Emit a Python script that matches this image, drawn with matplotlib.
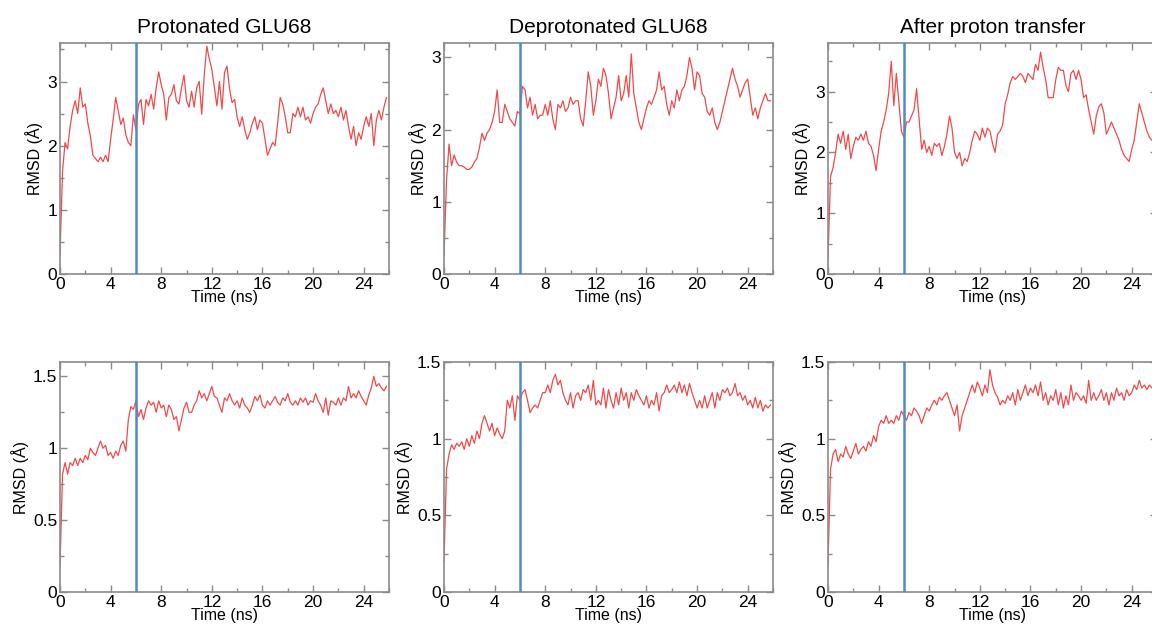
import numpy as np
import matplotlib
matplotlib.use("Agg")
import matplotlib.pyplot as plt
from matplotlib.ticker import MultipleLocator

plt.rcParams['font.family'] = ['Liberation Sans', 'DejaVu Sans']

# time axis (ns), sampled every 0.2 ns
time_ns = np.round(np.arange(130) * 0.2, 1)

titles = ["Protonated GLU68", "Deprotonated GLU68", "After proton transfer"]
transfer_time = 6.0

rmsd_top_protonated = [
    0.3, 1.6, 2.05, 1.95, 2.3, 2.55, 2.7, 2.5, 2.9, 2.6,
    2.65, 2.35, 2.15, 1.85, 1.8, 1.75, 1.82, 1.75, 1.85, 1.75,
    2.1, 2.4, 2.75, 2.55, 2.33, 2.43, 2.17, 2.05, 2.0, 2.48,
    2.25, 2.64, 2.72, 2.33, 2.72, 2.62, 2.8, 2.57, 2.9, 3.15,
    2.95, 2.8, 2.4, 2.75, 2.8, 2.95, 2.7, 2.65, 2.9, 3.1,
    2.7, 2.6, 2.85, 2.6, 2.9, 3.0, 2.49, 3.1, 3.55, 3.35,
    3.19, 2.9, 2.62, 3.0, 2.57, 3.14, 3.24, 2.88, 2.67, 2.72,
    2.44, 2.3, 2.45, 2.25, 2.1, 2.2, 2.35, 2.45, 2.25, 2.4,
    2.35, 2.1, 1.85, 1.95, 2.05, 2.0, 2.35, 2.75, 2.65, 2.45,
    2.2, 2.2, 2.5, 2.45, 2.6, 2.45, 2.6, 2.4, 2.45, 2.35,
    2.5, 2.6, 2.65, 2.8, 2.9, 2.7, 2.5, 2.65, 2.5, 2.55,
    2.45, 2.6, 2.4, 2.55, 2.3, 2.1, 2.3, 2.0, 2.2, 2.1,
    2.3, 2.45, 2.3, 2.5, 2.0, 2.4, 2.55, 2.4, 2.6, 2.75,
]

rmsd_top_deprotonated = [
    0.25, 1.3, 1.8, 1.5, 1.65, 1.55, 1.5, 1.5, 1.48, 1.45,
    1.45, 1.48, 1.55, 1.6, 1.75, 1.95, 1.85, 1.95, 2.0, 2.1,
    2.25, 2.55, 2.1, 2.1, 2.35, 2.25, 2.15, 2.1, 2.05, 2.25,
    2.22, 2.6, 2.55, 2.3, 2.45, 2.2, 2.35, 2.15, 2.2, 2.2,
    2.35, 2.2, 2.4, 2.15, 2.0, 2.35, 2.3, 2.4, 2.25, 2.3,
    2.45, 2.35, 2.4, 2.4, 2.15, 2.05, 2.4, 2.8, 2.6, 2.2,
    2.4, 2.7, 2.6, 2.85, 2.75, 2.5, 2.15, 2.3, 2.45, 2.75,
    2.4, 2.5, 2.75, 2.45, 3.05, 2.5, 2.3, 2.1, 2.0, 2.15,
    2.3, 2.4, 2.35, 2.45, 2.55, 2.8, 2.55, 2.6, 2.35, 2.2,
    2.4, 2.3, 2.55, 2.4, 2.55, 2.6, 2.75, 3.0, 2.85, 2.55,
    2.8, 2.75, 2.5, 2.45, 2.25, 2.2, 2.3, 2.1, 2.0, 2.1,
    2.25, 2.4, 2.55, 2.7, 2.85, 2.7, 2.6, 2.45, 2.55, 2.65,
    2.7, 2.45, 2.2, 2.3, 2.15, 2.3, 2.4, 2.5, 2.4, 2.4,
]

rmsd_top_transfer = [
    0.25, 1.6, 1.75, 2.0, 2.3, 2.15, 2.35, 2.05, 2.3, 1.9,
    2.1, 2.25, 2.2, 2.3, 2.2, 2.35, 2.15, 2.1, 1.95, 1.7,
    2.05, 2.35, 2.5, 2.7, 2.98, 3.5, 2.77, 3.3, 2.82, 2.35,
    2.25, 2.5, 2.5, 2.6, 2.7, 3.05, 2.55, 2.05, 2.2, 2.0,
    2.1, 1.95, 2.15, 2.1, 2.15, 1.95, 2.1, 2.3, 2.6, 2.4,
    2.0, 1.9, 2.0, 1.78, 1.9, 1.85, 2.0, 2.2, 2.35, 2.3,
    2.2, 2.4, 2.25, 2.4, 2.35, 2.15, 2.0, 2.3, 2.35, 2.45,
    2.8, 2.95, 3.15, 3.25, 3.2, 3.25, 3.3, 3.25, 3.15, 3.3,
    3.25, 3.2, 3.45, 3.35, 3.65, 3.4, 3.2, 2.9, 2.9, 2.9,
    3.2, 3.4, 3.35, 3.35, 3.1, 3.0, 3.3, 3.35, 3.2, 3.35,
    3.2, 2.9, 2.95, 2.7, 2.5, 2.3, 2.6, 2.75, 2.8, 2.65,
    2.3, 2.4, 2.5, 2.4, 2.3, 2.2, 2.05, 1.95, 1.9, 1.85,
    2.05, 2.2, 2.5, 2.8, 2.65, 2.5, 2.35, 2.25, 2.2, 2.2,
]

rmsd_bottom_protonated = [
    0.18, 0.82, 0.9, 0.82, 0.9, 0.88, 0.93, 0.88, 0.93, 0.9,
    0.95, 0.92, 1.0, 0.97, 0.95, 1.0, 1.05, 1.0, 1.02, 0.95,
    0.97, 0.93, 0.98, 0.95, 1.02, 1.05, 0.98, 1.2, 1.29, 1.27,
    1.33, 1.22, 1.27, 1.2, 1.28, 1.33, 1.3, 1.32, 1.25, 1.33,
    1.28, 1.3, 1.22, 1.3, 1.27, 1.2, 1.22, 1.12, 1.2, 1.28,
    1.32, 1.25, 1.25, 1.3, 1.33, 1.4, 1.35, 1.38, 1.33, 1.38,
    1.43, 1.36, 1.35, 1.3, 1.25, 1.35, 1.33, 1.38, 1.33, 1.3,
    1.33, 1.28, 1.35, 1.3, 1.28, 1.25, 1.3, 1.36, 1.33, 1.37,
    1.3, 1.28, 1.33, 1.3, 1.33, 1.36, 1.32, 1.3, 1.35, 1.33,
    1.38, 1.32, 1.3, 1.33, 1.3, 1.35, 1.32, 1.35, 1.3, 1.33,
    1.32, 1.38, 1.33, 1.3, 1.25, 1.35, 1.23, 1.33, 1.32, 1.3,
    1.35, 1.3, 1.35, 1.33, 1.43, 1.35, 1.38, 1.35, 1.4, 1.36,
    1.33, 1.3, 1.37, 1.42, 1.5, 1.43, 1.45, 1.42, 1.4, 1.43,
]

rmsd_bottom_deprotonated = [
    0.2, 0.8, 0.9, 0.96, 0.93, 0.97, 0.95, 0.98, 0.93, 1.0,
    0.95, 1.02, 0.97, 1.05, 1.0, 1.1, 1.15, 1.1, 1.05, 1.1,
    1.02, 1.07, 1.03, 1.0, 1.05, 1.25, 1.2, 1.28, 1.12, 1.28,
    1.25, 1.3, 1.32, 1.25, 1.17, 1.2, 1.22, 1.2, 1.25, 1.3,
    1.3, 1.35, 1.3, 1.38, 1.42, 1.35, 1.38, 1.3, 1.25, 1.22,
    1.3, 1.2, 1.28, 1.3, 1.25, 1.32, 1.3, 1.35, 1.25, 1.38,
    1.22, 1.25, 1.22, 1.33, 1.2, 1.32, 1.25, 1.2, 1.3, 1.22,
    1.33, 1.25, 1.3, 1.2, 1.3, 1.25, 1.32, 1.28, 1.25, 1.22,
    1.28, 1.2, 1.25, 1.22, 1.3, 1.18, 1.28, 1.3, 1.35, 1.3,
    1.32, 1.35, 1.3, 1.37, 1.3, 1.35, 1.28, 1.36, 1.3, 1.25,
    1.2, 1.25, 1.2, 1.28, 1.2, 1.25, 1.3, 1.2, 1.3, 1.25,
    1.32, 1.3, 1.33, 1.28, 1.3, 1.36, 1.28, 1.3, 1.25, 1.28,
    1.22, 1.25, 1.2, 1.27, 1.2, 1.25, 1.18, 1.22, 1.2, 1.22,
]

rmsd_bottom_transfer = [
    0.18, 0.8, 0.9, 0.93, 0.85, 0.9, 0.88, 0.95, 0.9, 0.87,
    0.92, 0.97, 0.9, 0.93, 0.95, 0.92, 0.98, 0.95, 1.02, 0.98,
    1.08, 1.12, 1.1, 1.15, 1.1, 1.12, 1.1, 1.15, 1.12, 1.18,
    1.15, 1.12, 1.17, 1.15, 1.2, 1.18, 1.15, 1.1, 1.15, 1.2,
    1.18, 1.22, 1.25, 1.22, 1.27, 1.25, 1.28, 1.3, 1.25, 1.2,
    1.15, 1.22, 1.05, 1.15, 1.2, 1.25, 1.3, 1.35, 1.3, 1.37,
    1.33, 1.28, 1.35, 1.3, 1.45, 1.35, 1.3, 1.27, 1.22, 1.25,
    1.23, 1.28, 1.25, 1.3, 1.22, 1.32, 1.25, 1.3, 1.35, 1.28,
    1.33, 1.3, 1.35, 1.28, 1.37, 1.25, 1.3, 1.22, 1.28, 1.25,
    1.32, 1.22, 1.3, 1.2, 1.28, 1.22, 1.35, 1.25, 1.3, 1.28,
    1.25, 1.28, 1.23, 1.38, 1.25, 1.3, 1.25, 1.28, 1.32, 1.25,
    1.3, 1.22, 1.3, 1.25, 1.33, 1.28, 1.3, 1.25, 1.32, 1.28,
    1.3, 1.35, 1.32, 1.38, 1.33, 1.35, 1.32, 1.35, 1.33, 1.35,
]

top_series = [rmsd_top_protonated, rmsd_top_deprotonated, rmsd_top_transfer]
bottom_series = [rmsd_bottom_protonated, rmsd_bottom_deprotonated, rmsd_bottom_transfer]
top_ylims = [3.6, 3.2, 3.8]
bottom_ylims = [1.6, 1.5, 1.5]

W, H = 1152, 628
fig = plt.figure(figsize=(W / 100, H / 100), dpi=100)

col_left = [60, 444, 828]
ax_w = 329
rows = [(43, 274), (362, 592)]

red = '#f04a4a'
blue = '#4d8dc6'
frame = '#8a8a8a'

for r, (top_px, bot_px) in enumerate(rows):
    for c in range(3):
        ax = fig.add_axes([col_left[c] / W, 1 - bot_px / H, ax_w / W, (bot_px - top_px) / H])
        data = top_series[c] if r == 0 else bottom_series[c]
        ymax = top_ylims[c] if r == 0 else bottom_ylims[c]
        ax.plot(time_ns, data, color=red, lw=0.9, zorder=2)
        ax.axvline(transfer_time, color=blue, lw=1.8, zorder=3)
        ax.set_xlim(0, 26)
        ax.set_ylim(0, ymax)
        ax.xaxis.set_major_locator(MultipleLocator(4))
        ax.xaxis.set_minor_locator(MultipleLocator(2))
        if r == 0:
            ax.yaxis.set_major_locator(MultipleLocator(1))
            ax.yaxis.set_minor_locator(MultipleLocator(0.5))
            ax.set_yticks([0, 1, 2, 3])
            ax.set_yticklabels(['0', '1', '2', '3'])
        else:
            ax.yaxis.set_major_locator(MultipleLocator(0.5))
            ax.yaxis.set_minor_locator(MultipleLocator(0.25))
            ax.set_yticks([0, 0.5, 1, 1.5])
            ax.set_yticklabels(['0', '0.5', '1', '1.5'])
        for s in ax.spines.values():
            s.set_color(frame)
            s.set_linewidth(1.2)
        ax.tick_params(which='both', direction='in', top=True, right=True,
                       color=frame, labelsize=12.5, labelcolor='black')
        ax.tick_params(which='major', length=5, width=1.0, pad=2)
        ax.tick_params(which='minor', length=3, width=1.0)
        ax.set_xlabel('Time (ns)', fontsize=11.5, labelpad=-1)
        ax.set_ylabel('RMSD (Å)', fontsize=11.5, labelpad=3)
        if r == 0:
            ax.set_title(titles[c], fontsize=15, pad=7)

fig.savefig('out.png', dpi=100)
